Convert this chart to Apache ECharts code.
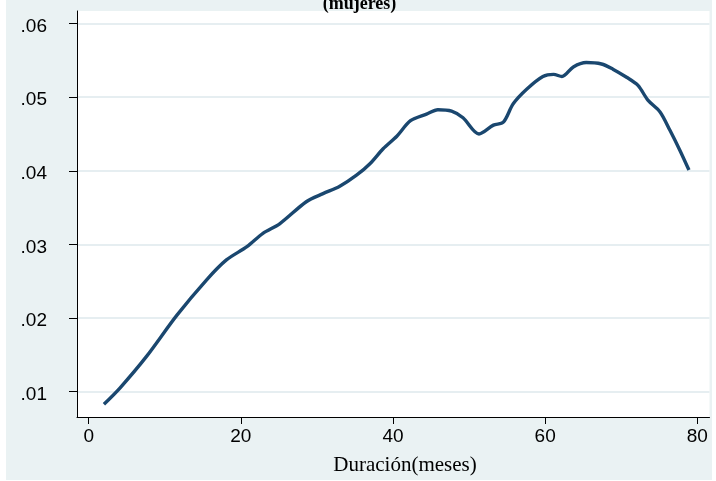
<!DOCTYPE html>
<html>
<head>
<meta charset="utf-8">
<script src="https://cdn.jsdelivr.net/npm/echarts@6/dist/echarts.min.js"></script>
<style>
html,body{margin:0;padding:0;background:#fff;}
#c{width:716px;height:481px;}
</style>
</head>
<body>
<div id="c"></div>
<script>
// Data
var duracion = [2.0, 4.1, 7.6, 11.6, 15.5, 18.1, 20.8, 22.9, 25.1, 28.6, 30.8, 33.0, 35.2, 37.0, 38.7, 40.5, 42.3, 44.4, 45.9, 47.7, 49.2, 51.3, 53.2, 54.5, 55.8, 57.6, 59.7, 61.1, 62.2, 63.7, 65.4, 67.4, 68.9, 70.7, 72.2, 73.5, 75.1, 76.4, 77.7, 78.9];
var tasa = [0.0083, 0.0105, 0.0148, 0.0204, 0.0252, 0.0279, 0.0297, 0.0315, 0.0328, 0.0358, 0.0369, 0.0379, 0.0394, 0.0410, 0.0430, 0.0447, 0.0468, 0.0477, 0.0483, 0.0481, 0.0472, 0.0450, 0.0462, 0.0466, 0.0491, 0.0511, 0.0528, 0.0531, 0.0528, 0.0541, 0.0547, 0.0545, 0.0538, 0.0527, 0.0516, 0.0496, 0.0480, 0.0455, 0.0428, 0.0401];
var xTicks = [0, 20, 40, 60, 80];
var yTicks = [0.01, 0.02, 0.03, 0.04, 0.05, 0.06];
var yTickLabels = ['.01', '.02', '.03', '.04', '.05', '.06'];
var titleText = '(mujeres)';
var xTitle = 'Duración(meses)';

var pts = duracion.map(function (x, i) { return [x, tasa[i]]; });

var chart = echarts.init(document.getElementById('c'), null, {renderer: 'canvas'});
chart.setOption({
  animation: false,
  backgroundColor: '#ffffff',
  graphic: [
    {type: 'rect', z: -10, shape: {x: 6, y: 0, width: 706, height: 480}, style: {fill: '#eaf2f3'}},
    {type: 'text', x: 359.5, y: 13, style: {text: titleText, align: 'center', verticalAlign: 'bottom', font: 'bold 18px "Liberation Serif"', fill: '#000'}},
    {type: 'text', x: 405, y: 465, style: {text: xTitle, align: 'center', verticalAlign: 'middle', font: '21px "Liberation Serif"', fill: '#000'}}
  ],
  grid: {left: 77, right: 6.5, top: 11, bottom: 64, show: true, backgroundColor: '#ffffff', borderWidth: 0, containLabel: false},
  xAxis: {
    type: 'value', min: -1.54, max: 81.6,
    axisLine: {show: true, onZero: false, lineStyle: {color: '#000', width: 1}},
    axisTick: {show: true, length: 7, customValues: xTicks, lineStyle: {color: '#000', width: 1}},
    axisLabel: {customValues: xTicks, margin: 10, fontFamily: '"Liberation Sans"', fontSize: 19, color: '#000'},
    splitLine: {show: false}
  },
  yAxis: {
    type: 'value', min: 0.00657, max: 0.0617,
    axisLine: {show: true, onZero: false, lineStyle: {color: '#000', width: 1}},
    axisTick: {show: true, length: 8, customValues: yTicks, lineStyle: {color: '#000', width: 1}},
    axisLabel: {customValues: yTicks, margin: 30, fontFamily: '"Liberation Sans"', fontSize: 19, color: '#000',
      rich: {a: {fontFamily: '"Liberation Sans"', fontSize: 19, color: '#000', padding: [6, 0, 0, 0]}},
      formatter: function (v) { var i = yTicks.findIndex(function (t) { return Math.abs(t - v) < 1e-9; }); return i >= 0 ? '{a|' + yTickLabels[i] + '}' : ''; }},
    splitLine: {show: true, lineStyle: {color: '#e6eef1', width: 2}}
  },
  series: [{
    type: 'line', data: pts, smooth: 0.3, showSymbol: false,
    lineStyle: {color: '#1a476f', width: 3.4}
  }]
});
</script>
</body>
</html>
